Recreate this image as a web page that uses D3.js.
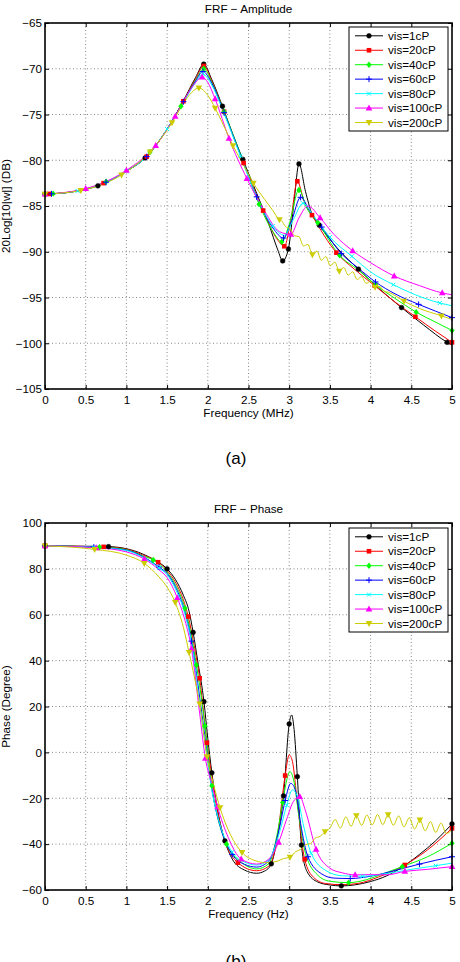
<!DOCTYPE html>
<html><head><meta charset="utf-8">
<script src="https://cdn.jsdelivr.net/npm/d3@7"></script>
<style>body{margin:0;background:#fff}svg{display:block}text{font-family:"Liberation Sans",Arial,sans-serif}</style>
</head><body>
<script>
const xTicks=[0,0.5,1,1.5,2,2.5,3,3.5,4,4.5,5];
const ampTicks=[-105,-100,-95,-90,-85,-80,-75,-70,-65];
const phaseTicks=[-60,-40,-20,0,20,40,60,80,100];
const seriesNames=["vis=1cP","vis=20cP","vis=40cP","vis=60cP","vis=80cP","vis=100cP","vis=200cP"];
const seriesColors=["#000000","#ff0000","#00ff00","#0000ff","#00ffff","#ff00ff","#cccc00"];
const seriesMarkers=["circle","square","diamond","plus","cross","triUp","triDown"];

// ---------- Amplitude (dB) ----------
const amp1cP=[[0,-83.7],[0.3,-83.5],[0.65,-82.8],[1.0,-81.2],[1.23,-79.75],[1.5,-76.6],[1.7,-73.5],[1.85,-70.95],[1.95,-69.5],[2.05,-71.2],[2.18,-74.1],[2.3,-77.0],[2.43,-79.9],[2.6,-83.6],[2.75,-87.0],[2.86,-89.8],[2.92,-91.0],[2.99,-89.7],[3.06,-84.5],[3.12,-80.4],[3.2,-83.4],[3.28,-85.9],[3.37,-87.1],[3.6,-89.7],[3.85,-91.9],[4.1,-94.0],[4.38,-96.1],[4.65,-98.0],[4.94,-99.9],[5.0,-100.2]];
const amp20cP=[[0,-83.7],[0.05,-83.68],[0.3,-83.5],[0.72,-82.5],[1.0,-81.2],[1.25,-79.6],[1.5,-76.6],[1.7,-73.55],[1.85,-71.1],[1.95,-69.7],[2.05,-71.35],[2.2,-74.7],[2.44,-80.3],[2.68,-85.5],[2.85,-88.6],[2.94,-89.4],[3.02,-86.5],[3.1,-82.3],[3.18,-84.4],[3.28,-86.0],[3.58,-90.1],[3.8,-91.9],[4.05,-93.7],[4.3,-95.5],[4.55,-97.1],[4.8,-98.7],[5.0,-99.9]];
const amp40cP=[[0,-83.7],[0.1,-83.65],[0.4,-83.35],[0.75,-82.35],[1.0,-81.2],[1.29,-79.1],[1.5,-76.6],[1.67,-74.1],[1.85,-71.25],[1.95,-70.0],[2.05,-71.5],[2.2,-74.7],[2.4,-79.3],[2.63,-84.8],[2.8,-87.8],[2.91,-88.9],[3.0,-87.0],[3.12,-83.25],[3.22,-85.3],[3.35,-86.8],[3.62,-90.4],[3.85,-92.0],[4.06,-93.6],[4.3,-95.1],[4.56,-96.6],[4.8,-97.7],[5.0,-98.6]];
const amp60cP=[[0,-83.7],[0.08,-83.67],[0.4,-83.35],[0.75,-82.4],[1.0,-81.2],[1.25,-79.6],[1.5,-76.6],[1.7,-73.6],[1.85,-71.35],[1.94,-70.3],[2.05,-71.6],[2.2,-74.8],[2.4,-79.4],[2.6,-84.0],[2.8,-87.4],[2.93,-88.5],[3.03,-86.6],[3.14,-84.05],[3.25,-85.5],[3.4,-87.3],[3.64,-90.2],[3.85,-91.8],[4.06,-93.3],[4.3,-94.6],[4.59,-95.75],[4.8,-96.5],[5.0,-97.2]];
const amp80cP=[[0,-83.7],[0.4,-83.35],[0.75,-82.4],[1.0,-81.2],[1.25,-79.6],[1.5,-76.6],[1.7,-73.7],[1.85,-71.5],[1.94,-70.6],[2.05,-71.8],[2.2,-74.9],[2.4,-79.5],[2.6,-84.0],[2.8,-87.2],[2.94,-88.2],[3.05,-86.5],[3.17,-84.7],[3.3,-86.1],[3.5,-88.4],[3.77,-90.5],[4.0,-92.2],[4.28,-93.6],[4.55,-94.7],[4.85,-95.6],[5.0,-95.9]];
const amp100cP=[[0,-83.7],[0.5,-83.1],[1.0,-81.1],[1.36,-78.4],[1.6,-75.2],[1.75,-72.8],[1.85,-71.5],[1.93,-70.9],[2.0,-71.5],[2.09,-73.3],[2.26,-77.6],[2.48,-82.0],[2.7,-85.6],[2.88,-87.8],[3.02,-88.1],[3.12,-86.3],[3.23,-85.0],[3.38,-86.3],[3.55,-88.1],[3.78,-89.9],[4.0,-91.2],[4.29,-92.65],[4.6,-93.7],[4.88,-94.5],[5.0,-94.7]];
const amp200cP=[[0,-83.7],[0.44,-83.3],[0.94,-81.6],[1.29,-79.1],[1.56,-75.9],[1.7,-73.8],[1.8,-72.6],[1.89,-72.1],[2.0,-72.9],[2.09,-74.3],[2.2,-76.3],[2.31,-78.4],[2.45,-80.7],[2.56,-82.5],[2.7,-84.3],[2.8,-85.5],[2.88,-86.5],[2.9,-86.57],[2.955,-87.25],[3.01,-87.48],[3.065,-88.26],[3.12,-88.34],[3.175,-89.37],[3.23,-89.2],[3.285,-90.33],[3.34,-89.93],[3.395,-90.93],[3.45,-90.53],[3.505,-91.53],[3.56,-91.12],[3.615,-92.12],[3.67,-91.72],[3.725,-92.55],[3.78,-92.19],[3.835,-93.03],[3.89,-92.72],[3.945,-93.45],[4.0,-93.24],[4.055,-93.88],[4.11,-93.79],[4.165,-94.31],[4.22,-94.43],[4.41,-95.4],[4.6,-96.2],[4.87,-97.0],[5.0,-97.4]];

const ampMk1cP=[0,0.65,1.23,1.95,2.18,2.43,2.92,2.99,3.12,3.37,3.85,4.38,4.94];
const ampMk20cP=[0.05,0.72,1.25,1.7,1.95,2.2,2.44,2.68,2.94,3.1,3.28,3.58,4.05,4.55,5.0];
const ampMk40cP=[0.1,0.75,1.29,1.67,1.95,2.2,2.63,2.91,3.12,3.35,3.62,4.06,4.56,5.0];
const ampMk60cP=[0.08,0.75,1.25,1.7,1.94,2.2,2.6,2.93,3.14,3.4,3.64,4.06,4.59,5.0];
const ampMk80cP=[0,0.4,1.0,1.5,1.94,2.4,2.8,3.17,3.5,3.77,4.28,4.85];
const ampMk100cP=[0,0.5,1.0,1.36,1.6,1.93,2.09,2.26,2.48,3.02,3.38,3.78,4.29,4.88];
const ampMk200cP=[0,0.44,0.94,1.29,1.56,1.89,2.09,2.31,2.56,2.88,3.285,3.615,4.055,4.41,4.87];

// ---------- Phase (degree) ----------
const ph1cP=[[0,90],[0.4,89.9],[0.78,89.7],[1.0,88.8],[1.2,86.5],[1.35,83.8],[1.5,80.0],[1.6,75.5],[1.7,68.5],[1.77,61.5],[1.82,52.3],[1.88,39],[1.953,22.1],[2.0,6],[2.05,-8.9],[2.12,-25],[2.21,-38.6],[2.3,-46.5],[2.45,-51.3],[2.6,-52.7],[2.7,-51.7],[2.78,-48.6],[2.86,-36],[2.93,-19.0],[3.0,12.4],[3.03,16.3],[3.06,10],[3.1,-10.6],[3.15,-40.4],[3.22,-52],[3.35,-56.5],[3.5,-57.8],[3.64,-58.2],[3.8,-57.8],[4.0,-56.3],[4.2,-53.8],[4.42,-49.3],[4.6,-44.5],[4.8,-38.5],[5.0,-31.2]];
const ph20cP=[[0,90],[0.72,89.6],[1.0,88.6],[1.2,86.1],[1.39,82.9],[1.5,79.3],[1.6,74.3],[1.7,66.5],[1.76,59.2],[1.83,47],[1.9,32.3],[1.99,4.2],[2.05,-10.5],[2.12,-26],[2.2,-37.5],[2.37,-48.1],[2.6,-51.6],[2.75,-49.6],[2.85,-38],[2.95,-10.1],[3.0,-1.1],[3.04,-4],[3.1,-22],[3.19,-46.6],[3.3,-54.5],[3.45,-57.2],[3.65,-57.7],[3.85,-57.1],[4.1,-54.3],[4.42,-49.1],[4.7,-42.5],[5.0,-33.1]];
const ph40cP=[[0,90],[0.67,89.5],[1.0,88.4],[1.2,85.7],[1.33,83.9],[1.5,78.6],[1.6,73.2],[1.72,62.8],[1.8,50.5],[1.86,38.1],[1.9,29],[1.965,11.5],[2.05,-14.6],[2.23,-40.0],[2.4,-47.5],[2.6,-50.8],[2.75,-48.5],[2.85,-36],[2.92,-21.8],[2.97,-12],[3.01,-8.4],[3.06,-13],[3.12,-28],[3.2,-44],[3.35,-53.5],[3.5,-56.2],[3.73,-56.8],[3.95,-55.5],[4.15,-53],[4.39,-49.8],[4.7,-45.5],[5.0,-39.6]];
const ph60cP=[[0,90],[0.6,89.5],[1.0,88.2],[1.2,85.4],[1.4,80.8],[1.5,78.0],[1.6,72.3],[1.7,63.5],[1.8,48.5],[1.9,24],[1.96,8],[2.05,-16],[2.15,-32],[2.3,-44.5],[2.45,-48.8],[2.6,-50.0],[2.75,-47.3],[2.88,-33],[2.95,-21],[3.02,-13.5],[3.08,-17],[3.14,-31],[3.23,-45.5],[3.4,-53],[3.55,-54.8],[3.75,-55.0],[4.0,-54.0],[4.3,-51.5],[4.6,-48.7],[5.0,-45.5]];
const ph80cP=[[0,90],[0.6,89.4],[1.0,88.0],[1.2,85.1],[1.4,80.4],[1.5,77.4],[1.6,71.5],[1.7,62.5],[1.8,47.5],[1.9,21],[1.97,3],[2.05,-16.5],[2.15,-31.5],[2.3,-43.5],[2.45,-47.8],[2.6,-49.1],[2.75,-46.8],[2.88,-35],[2.97,-23],[3.04,-16.4],[3.1,-19],[3.17,-31],[3.27,-44],[3.45,-51.5],[3.65,-53.8],[3.9,-54],[4.2,-52.8],[4.5,-51],[4.8,-49.4],[5.0,-48.3]];
const ph100cP=[[0,90],[0.63,89.2],[1.0,87.4],[1.22,84.3],[1.4,79.6],[1.5,76.2],[1.625,67.4],[1.72,57.5],[1.8,45.1],[1.9,17],[1.97,-2.6],[2.05,-14],[2.12,-23.7],[2.25,-37],[2.41,-46.5],[2.6,-48.7],[2.75,-46.5],[2.87,-39.2],[2.97,-29],[3.05,-21.5],[3.13,-19.3],[3.2,-25.5],[3.33,-42.3],[3.5,-50.5],[3.65,-52.5],[3.81,-53.4],[4.0,-53.3],[4.2,-53.4],[4.42,-51.9],[4.7,-51],[5.0,-49.8]];
const ph200cP=[[0,90],[0.61,88.5],[1.0,86.0],[1.22,82.4],[1.4,76.5],[1.5,72.0],[1.6,65.4],[1.7,54.5],[1.77,43.6],[1.84,32],[1.9,21.1],[1.99,-1.9],[2.07,-14],[2.15,-24.1],[2.28,-36],[2.42,-43.6],[2.58,-47.2],[2.72,-48.1],[2.85,-47.5],[2.93,-46.3],[3.01,-45.7],[3.08,-43.3],[3.14,-42.3],[3.2,-40.2],[3.26,-39.8],[3.32,-37.4],[3.38,-36.6],[3.44,-34.6],[3.5,-33.0],[3.565,-29.3],[3.63,-33.0],[3.695,-28.1],[3.76,-32.2],[3.825,-27.6],[3.89,-31.8],[3.955,-27.3],[4.02,-31.6],[4.085,-27.1],[4.15,-31.5],[4.215,-27.2],[4.28,-31.8],[4.345,-27.7],[4.41,-32.5],[4.475,-28.5],[4.54,-33.4],[4.605,-29.4],[4.67,-34.2],[4.735,-30.2],[4.8,-34.9],[4.865,-30.8],[4.93,-35.3],[5.0,-33.8]];

const phMk1cP=[0,0.78,1.5,1.82,1.953,2.05,2.21,2.78,2.93,3.0,3.1,3.15,3.64,5.0];
const phMk20cP=[0,0.72,1.39,1.76,1.9,1.99,2.37,2.95,3.19,4.42,5.0];
const phMk40cP=[0,0.67,1.33,1.72,1.86,1.965,2.05,2.23,2.92,3.73,4.39,5.0];
const phMk60cP=[0,0.6,1.4,1.8,2.3,2.95,3.23,3.75,4.6,5.0];
const phMk80cP=[0,0.6,1.4,2.3,2.97,3.27,3.9,4.8];
const phMk100cP=[0,0.63,1.22,1.625,1.8,1.97,2.12,2.41,2.87,3.13,3.33,3.81,4.42,5.0];
const phMk200cP=[0,0.61,1.22,1.6,1.77,1.9,1.99,2.15,2.42,3.01,3.44,3.825,4.215,4.605];

const ampSeries=[amp1cP,amp20cP,amp40cP,amp60cP,amp80cP,amp100cP,amp200cP];
const ampMarks=[ampMk1cP,ampMk20cP,ampMk40cP,ampMk60cP,ampMk80cP,ampMk100cP,ampMk200cP];
const phSeries=[ph1cP,ph20cP,ph40cP,ph60cP,ph80cP,ph100cP,ph200cP];
const phMarks=[phMk1cP,phMk20cP,phMk40cP,phMk60cP,phMk80cP,phMk100cP,phMk200cP];

const W=460,H=962,FS="11.7px";
const svg=d3.select("body").append("svg").attr("width",W).attr("height",H);

function drawMarker(g,type,cx,cy,color){
  let p;
  switch(type){
    case "circle": g.append("circle").attr("cx",cx).attr("cy",cy).attr("r",2.4).attr("fill",color).attr("stroke",color).attr("stroke-width",0.5); return;
    case "square": g.append("rect").attr("x",cx-2.3).attr("y",cy-2.3).attr("width",4.6).attr("height",4.6).attr("fill",color); return;
    case "diamond": p=`M${cx},${cy-3.2}L${cx+2.6},${cy}L${cx},${cy+3.2}L${cx-2.6},${cy}Z`; g.append("path").attr("d",p).attr("fill",color); return;
    case "plus": p=`M${cx-3},${cy}H${cx+3}M${cx},${cy-3}V${cy+3}`; g.append("path").attr("d",p).attr("stroke",color).attr("stroke-width",1).attr("fill","none"); return;
    case "cross": p=`M${cx-2},${cy-2}L${cx+2},${cy+2}M${cx-2},${cy+2}L${cx+2},${cy-2}`; g.append("path").attr("d",p).attr("stroke",color).attr("stroke-width",1).attr("fill","none"); return;
    case "triUp": p=`M${cx},${cy-3.6}L${cx+3.3},${cy+2.4}L${cx-3.3},${cy+2.4}Z`; g.append("path").attr("d",p).attr("fill",color); return;
    case "triDown": p=`M${cx},${cy+3.6}L${cx+3.3},${cy-2.4}L${cx-3.3},${cy-2.4}Z`; g.append("path").attr("d",p).attr("fill",color); return;
  }
}

function drawPanel(o){
  const x=d3.scaleLinear().domain([0,5]).range([45,452]);
  const y=d3.scaleLinear().domain(o.yDomain).range([o.bottom,o.top]);
  const g=svg.append("g");
  const fmt=d=>(d<0?"\u2212":"")+Math.abs(d);
  // grid
  g.append("g").selectAll("line").data(xTicks.slice(1,-1)).join("line")
    .attr("x1",d=>x(d)).attr("x2",d=>x(d)).attr("y1",o.top).attr("y2",o.bottom)
    .attr("stroke","#555").attr("stroke-width",0.7).attr("stroke-dasharray","1,2.5");
  g.append("g").selectAll("line").data(o.yTicks.slice(1,-1)).join("line")
    .attr("y1",d=>y(d)).attr("y2",d=>y(d)).attr("x1",45).attr("x2",452)
    .attr("stroke","#555").attr("stroke-width",0.7).attr("stroke-dasharray","1,2.5");
  // axes
  const styleAxis=sel=>{sel.select(".domain").remove();sel.selectAll("line").attr("stroke","#000");sel.selectAll("text").attr("font-size",FS).attr("font-family","Liberation Sans, Arial, sans-serif").attr("fill","#000");};
  g.append("g").attr("transform",`translate(0,${o.bottom})`).call(d3.axisBottom(x).tickValues(xTicks).tickFormat(fmt).tickSize(-4).tickPadding(7)).call(styleAxis);
  g.append("g").attr("transform",`translate(0,${o.top})`).call(d3.axisTop(x).tickValues(xTicks).tickFormat(()=>"").tickSize(-4)).call(styleAxis);
  g.append("g").attr("transform",`translate(45,0)`).call(d3.axisLeft(y).tickValues(o.yTicks).tickFormat(fmt).tickSize(-4).tickPadding(3)).call(styleAxis);
  g.append("g").attr("transform",`translate(452,0)`).call(d3.axisRight(y).tickValues(o.yTicks).tickFormat(()=>"").tickSize(-4)).call(styleAxis);
  // clip
  const cid="clip"+o.id;
  svg.append("clipPath").attr("id",cid).append("rect").attr("x",45).attr("y",o.top).attr("width",407).attr("height",o.bottom-o.top);
  const line=d3.line().x(d=>x(d[0])).y(d=>y(d[1])).curve(d3.curveMonotoneX);
  const lg=g.append("g").attr("clip-path",`url(#${cid})`);
  o.data.forEach((s,i)=>{
    lg.append("path").attr("d",line(s)).attr("fill","none").attr("stroke",seriesColors[i]).attr("stroke-width",1);
    o.marks[i].forEach(f=>{
      let best=s[0];s.forEach(p=>{if(Math.abs(p[0]-f)<Math.abs(best[0]-f))best=p;});
      drawMarker(g,seriesMarkers[i],x(best[0]),y(best[1]),seriesColors[i]);
    });
  });
  // box
  g.append("rect").attr("x",45).attr("y",o.top).attr("width",407).attr("height",o.bottom-o.top).attr("fill","none").attr("stroke","#000").attr("stroke-width",1.6);
  // legend
  const L=g.append("g");
  L.append("rect").attr("x",349).attr("y",o.legendTop).attr("width",99).attr("height",104).attr("fill","#fff").attr("stroke","#000").attr("stroke-width",1);
  seriesNames.forEach((n,i)=>{
    const yy=o.legendTop+8.8+i*14.45;
    L.append("line").attr("x1",355).attr("x2",383).attr("y1",yy).attr("y2",yy).attr("stroke",seriesColors[i]).attr("stroke-width",1);
    drawMarker(L,seriesMarkers[i],369,yy,seriesColors[i]);
    L.append("text").attr("x",388).attr("y",yy+4.2).attr("font-size",FS).text(n);
  });
  // labels
  g.append("text").attr("x",248.5).attr("y",o.top-10).attr("text-anchor","middle").attr("font-size",FS).text(o.title);
  g.append("text").attr("x",248.5).attr("y",o.bottom+28).attr("text-anchor","middle").attr("font-size",FS).text(o.xlabel);
  g.append("text").attr("transform",`translate(9.5,${(o.top+o.bottom)/2}) rotate(-90)`).attr("text-anchor","middle").attr("font-size",FS).text(o.ylabel);
  g.append("text").attr("x",236).attr("y",o.caption).attr("text-anchor","middle").attr("font-size","17px").attr("font-family","Liberation Serif, DejaVu Serif, serif").text(o.capText);
}

drawPanel({id:"a",top:23,bottom:389,yDomain:[-105,-65],yTicks:ampTicks,title:"FRF \u2212 Amplitude",xlabel:"Frequency (MHz)",ylabel:"20Log[10|w|] (DB)",data:ampSeries,marks:ampMarks,legendTop:27,caption:463.5,capText:"(a)"});
drawPanel({id:"b",top:523,bottom:890,yDomain:[-60,100],yTicks:phaseTicks,title:"FRF \u2212 Phase",xlabel:"Frequency (Hz)",ylabel:"Phase (Degree)",data:phSeries,marks:phMarks,legendTop:528,caption:966.5,capText:"(b)"});
</script></body></html>
